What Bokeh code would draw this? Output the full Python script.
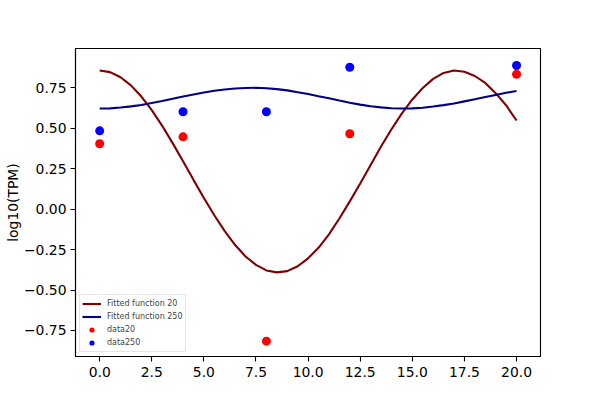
from bokeh.plotting import figure
from bokeh.models import Range1d, FixedTicker, Legend, LegendItem
from bokeh.embed import file_html
from bokeh.resources import INLINE

# ---- data ----
fit_x = [0, 0.5, 1, 1.5, 2, 2.5, 3, 3.5, 4, 4.5, 5, 5.5, 6, 6.5, 7, 7.5, 8, 8.5, 9, 9.5,
         10, 10.5, 11, 11.5, 12, 12.5, 13, 13.5, 14, 14.5, 15, 15.5, 16, 16.5, 17, 17.5,
         18, 18.5, 19, 19.5, 20]
fit20 = [0.857, 0.847, 0.815, 0.765, 0.696, 0.612, 0.515, 0.408, 0.296, 0.181, 0.069,
         -0.038, -0.136, -0.222, -0.293, -0.345, -0.379, -0.391, -0.383, -0.353, -0.304,
         -0.239, -0.156, -0.058, 0.048, 0.159, 0.273, 0.387, 0.494, 0.592, 0.678, 0.749,
         0.805, 0.842, 0.857, 0.849, 0.823, 0.780, 0.717, 0.642, 0.548]
fit250 = [0.622, 0.623, 0.628, 0.635, 0.644, 0.656, 0.668, 0.682, 0.696, 0.709, 0.721,
          0.732, 0.740, 0.746, 0.749, 0.750, 0.747, 0.742, 0.734, 0.723, 0.712, 0.698,
          0.685, 0.671, 0.658, 0.646, 0.636, 0.629, 0.624, 0.622, 0.623, 0.627, 0.634,
          0.643, 0.653, 0.666, 0.679, 0.693, 0.706, 0.719, 0.730]
data_x = [0, 4, 8, 12, 20]
data20 = [0.404, 0.447, -0.816, 0.466, 0.834]
data250 = [0.484, 0.602, 0.602, 0.877, 0.888]

x_ticks = [0, 2.5, 5, 7.5, 10, 12.5, 15, 17.5, 20]
x_tick_labels = ["0.0", "2.5", "5.0", "7.5", "10.0", "12.5", "15.0", "17.5", "20.0"]
y_ticks = [-0.75, -0.5, -0.25, 0.0, 0.25, 0.5, 0.75]
y_tick_labels = ["\u22120.75", "\u22120.50", "\u22120.25", "0.00", "0.25", "0.50", "0.75"]
y_label = "log10(TPM)"
legend_labels = ["Fitted function 20", "Fitted function 250", "data20", "data250"]

FONT = "DejaVu Sans"

p = figure(width=600, height=400, output_backend="svg", toolbar_location=None,
           x_range=Range1d(-1.16, 21.15), y_range=Range1d(-0.911, 0.993),
           min_border_left=75, min_border_right=60, min_border_top=48, min_border_bottom=44)
p.background_fill_color = "white"
p.border_fill_color = "white"
p.outline_line_color = "black"
p.outline_line_width = 1.1
p.grid.visible = False

for ax in (p.xaxis, p.yaxis):
    ax.axis_line_color = "black"
    ax.axis_line_width = 1.1
    ax.major_tick_line_color = "black"
    ax.major_tick_line_width = 1.1
    ax.major_tick_out = 5
    ax.major_tick_in = 0
    ax.minor_tick_line_color = None
    ax.major_label_text_font = FONT
    ax.major_label_text_font_size = "13.9px"
    ax.major_label_text_color = "black"
    ax.major_label_standoff = 5

p.yaxis.major_label_standoff = 4
p.xaxis.ticker = FixedTicker(ticks=x_ticks)
p.xaxis.major_label_overrides = {t: l for t, l in zip(x_ticks, x_tick_labels)}
p.yaxis.ticker = FixedTicker(ticks=y_ticks)
p.yaxis.major_label_overrides = {t: l for t, l in zip(y_ticks, y_tick_labels)}
p.yaxis.axis_label = y_label
p.yaxis.axis_label_text_font = FONT
p.yaxis.axis_label_text_font_size = "13.9px"
p.yaxis.axis_label_text_font_style = "normal"
p.yaxis.axis_label_text_color = "black"
p.yaxis.axis_label_standoff = 0

r1 = p.line(fit_x, fit20, line_color="#800000", line_width=2.1)
r2 = p.line(fit_x, fit250, line_color="#000080", line_width=2.1)
r3 = p.scatter(data_x, data20, size=9, fill_color="red", line_color=None)
r4 = p.scatter(data_x, data250, size=9, fill_color="blue", line_color=None)

legend = Legend(items=[LegendItem(label=legend_labels[0], renderers=[r1]),
                       LegendItem(label=legend_labels[1], renderers=[r2]),
                       LegendItem(label=legend_labels[2], renderers=[r3]),
                       LegendItem(label=legend_labels[3], renderers=[r4])],
                location=(4, 4), margin=0, padding=2, spacing=0,
                glyph_width=19, glyph_height=13, label_height=13, label_standoff=6,
                label_text_font=FONT, label_text_font_size="8px",
                border_line_color="#cccccc", border_line_width=1,
                background_fill_color="white", background_fill_alpha=0.8)
p.add_layout(legend, "center")

open("out.html", "w").write(file_html(p, INLINE))
